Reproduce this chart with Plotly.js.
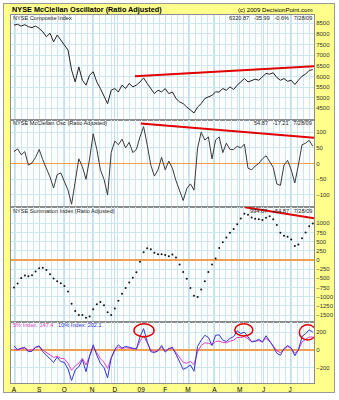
<!DOCTYPE html>
<html><head><meta charset="utf-8">
<script src="https://cdn.plot.ly/plotly-3.0.1.min.js"></script>
<style>
html,body{margin:0;padding:0;background:#fff;}
#frame{position:absolute;left:3px;top:3px;width:330px;height:388px;background:#ffff8c;border:1px solid #9a9a9a;}
#chart{position:absolute;left:0;top:0;width:339px;height:400px;}
</style></head>
<body>
<div id="frame"></div>
<div id="chart"></div>
<script>
// trading-day index of each sample (every 3rd trading day from 1 Aug 2008)
const day = Array.from({length: 84}, (_, k) => k * 3);

const monthTicks = [0, 21, 42, 65, 84, 106, 126, 145, 167, 188, 208, 230];
const monthLabels = ['A','S','O','N','D','09','F','M','A','M','J','J'];

const composite = [8420,8450,8370,8440,8340,8300,8370,8260,8100,7870,8030,7630,7950,7710,7480,7240,
  6300,5740,6450,5820,5590,6060,6220,5740,5430,5110,4720,5350,5430,5270,5590,5430,5670,5510,5590,5740,
  5930,5670,5430,5190,5350,5270,5430,5190,5270,4960,4800,4720,4560,4400,4280,4560,4720,4960,5040,5110,
  5270,5270,5430,5350,5510,5380,5590,5740,5900,5740,5820,5870,5820,5980,6140,6110,6170,5950,5820,5900,
  5770,5820,5620,5820,6010,6110,6280,6321];

const oscillator = [38,47,28,38,-5,2,20,45,12,-14,-43,-78,-35,-30,-60,-85,-130,-60,15,-10,-50,15,95,45,
  -20,-50,-100,35,72,60,78,50,68,35,45,85,118,60,-5,-40,-20,20,-20,8,-15,-55,-90,-118,-80,-65,-85,50,100,
  75,85,15,75,85,35,65,45,45,55,50,62,-15,-20,-8,0,15,25,8,-12,-65,-70,-5,10,-20,-62,-5,60,65,74,55];

const summation = [-750,-640,-490,-420,-440,-415,-310,-222,-210,-270,-390,-500,-580,-635,-705,-860,-1190,
  -1390,-1500,-1500,-1570,-1540,-1343,-1204,-1140,-1230,-1420,-1500,-1320,-1110,-920,-760,-610,-480,-330,
  -46,210,320,295,200,160,160,135,100,150,70,-120,-324,-509,-760,-970,-1010,-800,-580,-324,-125,40,330,
  480,610,741,845,972,1130,1260,1230,1157,1125,1110,1090,1150,1190,1110,950,740,660,635,560,380,420,590,
  750,920,995];

const index10 = [45,5,20,30,-20,-15,30,45,-20,-57,-95,-140,-80,-132,-140,-215,-345,-226,-190,-110,-245,-70,
  57,-60,-150,-200,-315,-90,5,57,20,40,30,20,10,150,240,94,-20,-30,-10,50,-25,15,30,-50,-128,-220,-200,-170,
  -240,40,110,165,140,50,165,170,110,95,130,150,215,185,200,150,95,100,120,90,160,100,40,-38,-60,15,50,20,
  -65,0,150,185,225,202];

const index5 = [10,0,15,20,-5,0,30,35,0,-30,-60,-85,-70,-95,-100,-150,-230,-180,-150,-95,-170,-60,30,-30,
  -100,-140,-210,-90,-10,30,15,25,20,15,10,100,160,80,0,-20,-5,30,-10,10,20,-30,-80,-140,-150,-130,-165,-20,
  50,80,75,60,95,100,85,80,100,110,140,140,150,125,90,95,105,90,130,100,50,-10,-30,10,40,20,-40,0,90,120,
  145,147];

// red trend lines: [axis, x0, y0, x1, y1]
const trendLines = [['y', 100.8, 6012, 250, 6481], ['y2', 105.6, 128, 250, 82], ['y3', 192.5, 1435, 250, 1135]];
// red ellipses on the bottom panel: [x0, y0, x1, y1]
const ellipses = [[100, 147, 116.7, 294], [184, 158, 199, 294], [237.8, 113, 251.7, 283]];

const GRID = '#cde7f2';
const FRAME = '#8c8c8c';
const ZERO = '#f0a050';
const tickFont = {family: 'Liberation Sans, Arial, sans-serif', size: 6, color: '#333'};

function yax(domain, range, tickvals, opts) {
  return Object.assign({
    domain: domain, range: range, anchor: 'x', side: 'right',
    tickmode: 'array', tickvals: tickvals, ticks: '', tickfont: tickFont,
    showgrid: true, gridcolor: GRID, gridwidth: 1,
    showline: true, linecolor: FRAME, linewidth: 1, mirror: true,
    zeroline: false, fixedrange: true
  }, opts || {});
}

const traces = [
  {x: day, y: composite, xaxis: 'x', yaxis: 'y', mode: 'lines', line: {color: '#222', width: 1}},
  {x: day, y: oscillator, xaxis: 'x', yaxis: 'y2', mode: 'lines', line: {color: '#3a3a3a', width: 1}},
  {x: day, y: summation, xaxis: 'x', yaxis: 'y3', mode: 'markers', marker: {color: '#111', size: 2}},
  {x: day, y: index5, xaxis: 'x', yaxis: 'y4', mode: 'lines', line: {color: '#e040c8', width: 1}},
  {x: day, y: index10, xaxis: 'x', yaxis: 'y4', mode: 'lines', line: {color: '#3434d0', width: 1}}
];

const shapes = [];
trendLines.forEach(t => shapes.push({type: 'line', xref: 'x', yref: t[0], x0: t[1], y0: t[2], x1: t[3], y1: t[4],
  line: {color: '#e00000', width: 2}}));
ellipses.forEach(e => shapes.push({type: 'circle', xref: 'x', yref: 'y4', x0: e[0], y0: e[1], x1: e[2], y1: e[3],
  line: {color: '#e00000', width: 1.5}}));

const lab = {family: 'Liberation Sans, Arial, sans-serif', size: 5.6, color: '#222'};
function note(text, x, y, anchor, font) {
  return {text: text, xref: 'paper', yref: 'paper', x: x, y: y, xanchor: anchor, yanchor: 'middle',
    showarrow: false, font: font || lab, borderpad: 0};
}
const annotations = [
  note('<b>NYSE McClellan Oscillator (Ratio Adjusted)</b>', 0, 1.0136, 'left',
    {family: 'Liberation Sans, Arial, sans-serif', size: 7.3, color: '#000'}),
  note('(c) 2009 DecisionPoint.com', 1, 1.0136, 'right',
    {family: 'Liberation Sans, Arial, sans-serif', size: 6.1, color: '#000'}),
  note('NYSE Composite Index', 0.003, 0.9905, 'left'),
  note('6320.87   -35.99   -0.6%   7/28/09', 0.997, 0.9905, 'right'),
  note('NYSE McClellan Osc (Ratio Adjusted)', 0.003, 0.7052, 'left'),
  note('54.87   -17.21   7/28/09', 0.997, 0.7052, 'right'),
  note('NYSE Summation Index (Ratio Adjusted)', 0.003, 0.4674, 'left'),
  note('994.07   +54.87   7/28/09', 0.997, 0.4674, 'right'),
  note('<span style="color:#e040c8">5% Index: 147.4</span>   <span style="color:#3434d0">10% Index: 202.1</span>',
    0.003, 0.1563, 'left')
];

const layout = {
  width: 339, height: 400,
  margin: {l: 11, r: 25, t: 15, b: 17, pad: 0},
  paper_bgcolor: 'rgba(0,0,0,0)', plot_bgcolor: '#fff',
  showlegend: false,
  xaxis: {
    range: [-2.5, 250], anchor: 'y4', tickmode: 'array', tickvals: monthTicks, ticktext: monthLabels,
    ticks: '', tickfont: {family: 'Liberation Sans, Arial, sans-serif', size: 6.5, color: '#000'},
    showgrid: true, gridcolor: '#c2e0ec', gridwidth: 1,
    minor: {tickmode: 'linear', tick0: 1, dtick: 5, showgrid: true, gridcolor: GRID, gridwidth: 1, ticks: ''},
    showline: true, linecolor: FRAME, linewidth: 1, mirror: 'all', zeroline: false, fixedrange: true
  },
  yaxis: yax([0.716, 1], [3972, 8892], [4500,5000,5500,6000,6500,7000,7500,8000,8500]),
  yaxis2: yax([0.478, 0.716], [-139, 140.6], [-100,-50,0,50,100],
    {zeroline: true, zerolinecolor: ZERO, zerolinewidth: 1.5}),
  yaxis3: yax([0.166, 0.478], [-1685, 1440], [-1500,-1250,-1000,-750,-500,-250,0,250,500,750,1000],
    {zeroline: true, zerolinecolor: ZERO, zerolinewidth: 1.5}),
  yaxis4: yax([0, 0.166], [-373, 316], [-200,0,200],
    {zeroline: true, zerolinecolor: ZERO, zerolinewidth: 1.5}),
  shapes: shapes,
  annotations: annotations
};

Plotly.newPlot('chart', traces, layout, {staticPlot: true, displayModeBar: false});
</script>
</body></html>
